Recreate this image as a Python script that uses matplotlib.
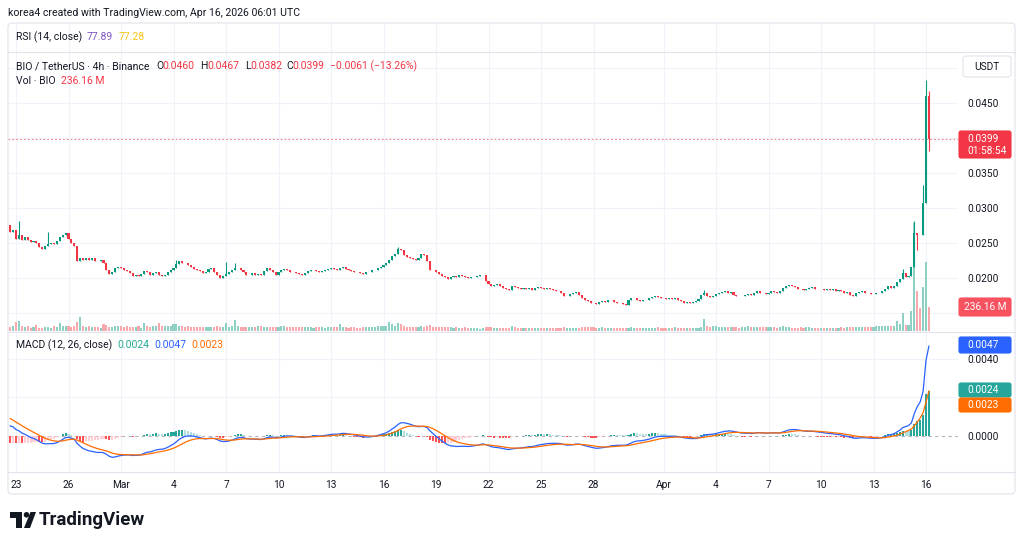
import numpy as np
import pandas as pd
import matplotlib
matplotlib.use("Agg")
import matplotlib.pyplot as plt
from matplotlib.patches import FancyBboxPatch, Rectangle, Circle, Polygon
from matplotlib.transforms import IdentityTransform, blended_transform_factory

plt.rcParams['font.family'] = ['Roboto', 'DejaVu Sans']

W, H = 1024, 546

# --- data: BIO/USDT 4h, Binance (first candle Feb 22 16:00 UTC) ---
first_time = "2026-02-22 16:00"
first_open = 0.0276
closes = [
    0.0266, 0.0268,                                  # Feb 22
    0.0256, 0.0262, 0.0255, 0.0258, 0.0254, 0.0252,  # Feb 23
    0.0253, 0.0250, 0.0245, 0.0242, 0.0246, 0.0249,  # Feb 24
    0.0250, 0.0248, 0.0253, 0.0258, 0.0262, 0.0264,  # Feb 25
    0.0256, 0.0250, 0.0246, 0.0224, 0.0228, 0.0226,  # Feb 26
    0.0229, 0.0226, 0.0228, 0.0225, 0.0224, 0.0226,  # Feb 27
    0.0222, 0.0212, 0.0206, 0.0208, 0.0214, 0.0216,  # Feb 28
    0.0214, 0.0212, 0.0210, 0.0207, 0.0203, 0.0205,  # Mar 1
    0.0203, 0.0206, 0.0210, 0.0208, 0.0204, 0.0207,  # Mar 2
    0.0208, 0.0205, 0.0203, 0.0205, 0.0209, 0.0212,  # Mar 3
    0.0214, 0.0220, 0.0224, 0.0222, 0.0221, 0.0218,  # Mar 4
    0.0216, 0.0213, 0.0211, 0.0210, 0.0207, 0.0209,  # Mar 5
    0.0213, 0.0214, 0.0209, 0.0204, 0.0200, 0.0203,  # Mar 6
    0.0206, 0.0208, 0.0211, 0.0214, 0.0215, 0.0212,  # Mar 7
    0.0208, 0.0204, 0.0205, 0.0207, 0.0205, 0.0206,  # Mar 8
    0.0204, 0.0210, 0.0214, 0.0211, 0.0208, 0.0205,  # Mar 9
    0.0208, 0.0211, 0.0213, 0.0211, 0.0209, 0.0208,  # Mar 10
    0.0207, 0.0206, 0.0205, 0.0207, 0.0210, 0.0211,  # Mar 11
    0.0212, 0.0210, 0.0208, 0.0210, 0.0212, 0.0213,  # Mar 12
    0.0214, 0.0213, 0.0212, 0.0214, 0.0216, 0.0213,  # Mar 13
    0.0211, 0.0210, 0.0209, 0.0208, 0.0207, 0.0206,  # Mar 14
    0.0208, 0.0209, 0.0211, 0.0212, 0.0215, 0.0216,  # Mar 15
    0.0218, 0.0221, 0.0226, 0.0232, 0.0234, 0.0242,  # Mar 16
    0.0240, 0.0233, 0.0230, 0.0229, 0.0227, 0.0226,  # Mar 17
    0.0229, 0.0234, 0.0233, 0.0225, 0.0212, 0.0211,  # Mar 18
    0.0208, 0.0206, 0.0203, 0.0201, 0.0199, 0.0201,  # Mar 19
    0.0203, 0.0202, 0.0204, 0.0203, 0.0201, 0.0200,  # Mar 20
    0.0201, 0.0202, 0.0203, 0.0204, 0.0204, 0.0196,  # Mar 21
    0.0192, 0.0189, 0.0190, 0.0191, 0.0188, 0.0186,  # Mar 22
    0.0184, 0.0183, 0.0189, 0.0187, 0.0186, 0.0185,  # Mar 23
    0.0186, 0.0185, 0.0186, 0.0183, 0.0186, 0.0187,  # Mar 24
    0.0186, 0.0185, 0.0186, 0.0184, 0.0183, 0.0182,  # Mar 25
    0.0181, 0.0178, 0.0174, 0.0175, 0.0177, 0.0178,  # Mar 26
    0.0180, 0.0176, 0.0171, 0.0168, 0.0167, 0.0165,  # Mar 27
    0.0164, 0.0163, 0.0166, 0.0167, 0.0166, 0.0168,  # Mar 28
    0.0169, 0.0166, 0.0165, 0.0164, 0.0163, 0.0162,  # Mar 29
    0.0168, 0.0171, 0.0172, 0.0169, 0.0167, 0.0168,  # Mar 30
    0.0169, 0.0171, 0.0173, 0.0175, 0.0173, 0.0172,  # Mar 31
    0.0171, 0.0170, 0.0171, 0.0170, 0.0171, 0.0168,  # Apr 1
    0.0167, 0.0165, 0.0166, 0.0165, 0.0166, 0.0167,  # Apr 2
    0.0170, 0.0176, 0.0178, 0.0175, 0.0173, 0.0174,  # Apr 3
    0.0177, 0.0179, 0.0180, 0.0181, 0.0179, 0.0180,  # Apr 4
    0.0176, 0.0175, 0.0174, 0.0175, 0.0176, 0.0177,  # Apr 5
    0.0176, 0.0179, 0.0181, 0.0179, 0.0178, 0.0177,  # Apr 6
    0.0179, 0.0181, 0.0180, 0.0179, 0.0181, 0.0186,  # Apr 7
    0.0189, 0.0190, 0.0188, 0.0187, 0.0185, 0.0184,  # Apr 8
    0.0183, 0.0184, 0.0186, 0.0187, 0.0185, 0.0184,  # Apr 9
    0.0185, 0.0183, 0.0184, 0.0183, 0.0184, 0.0182,  # Apr 10
    0.0183, 0.0181, 0.0178, 0.0180, 0.0176, 0.0175,  # Apr 11
    0.0178, 0.0180, 0.0181, 0.0179, 0.0178, 0.0177,  # Apr 12
    0.0177, 0.0178, 0.0179, 0.0181, 0.0184, 0.0189,  # Apr 13
    0.0186, 0.0188, 0.0195, 0.0198, 0.0207, 0.0201,  # Apr 14
    0.0203, 0.0216, 0.0264, 0.0262, 0.0261, 0.0307,  # Apr 15
    0.0460, 0.0399,                                  # Apr 16
]
# volume in millions of BIO
volumes = [
    35, 48,
    86, 96, 48, 35, 45, 32,
    40, 60, 32, 28, 35, 40,
    32, 48, 40, 74, 48, 52,
    50, 35, 48, 90, 134, 48,
    35, 48, 40, 35, 40, 32,
    64, 58, 42, 42, 45, 48,
    48, 42, 48, 35, 40, 35,
    52, 32, 74, 48, 40, 45,
    45, 80, 48, 52, 45, 48,
    64, 67, 48, 45, 40, 45,
    42, 40, 42, 42, 38, 40,
    40, 42, 38, 48, 40, 35,
    74, 40, 45, 106, 48, 40,
    35, 38, 35, 40, 42, 45,
    45, 42, 38, 35, 40, 35,
    38, 45, 48, 40, 35, 38,
    35, 38, 35, 40, 38, 35,
    32, 35, 38, 35, 32, 35,
    35, 40, 42, 64, 40, 35,
    32, 35, 38, 32, 30, 35,
    38, 35, 40, 42, 45, 48,
    45, 50, 82, 72, 48, 80,
    64, 48, 42, 38, 40, 35,
    38, 45, 40, 48, 58, 42,
    40, 38, 35, 42, 38, 35,
    32, 35, 30, 32, 35, 30,
    25, 28, 25, 22, 25, 35,
    38, 35, 32, 30, 28, 30,
    30, 28, 48, 35, 32, 30,
    28, 30, 32, 28, 26, 30,
    30, 28, 25, 30, 28, 32,
    32, 30, 35, 30, 28, 30,
    30, 32, 38, 40, 38, 35,
    35, 30, 32, 35, 30, 32,
    30, 28, 25, 25, 28, 30,
    32, 35, 30, 28, 30, 28,
    32, 30, 28, 32, 35, 30,
    30, 28, 30, 32, 35, 32,
    30, 28, 32, 30, 28, 30,
    32, 38, 112, 48, 40, 51,
    45, 40, 38, 35, 40, 38,
    35, 38, 32, 35, 40, 45,
    35, 38, 40, 38, 42, 40,
    40, 38, 35, 32, 35, 45,
    40, 35, 30, 32, 30, 35,
    32, 35, 38, 32, 30, 30,
    30, 28, 30, 32, 30, 28,
    32, 35, 30, 38, 40, 42,
    38, 40, 40, 38, 35, 40,
    42, 45, 50, 45, 48, 50,
    45, 50, 100, 65, 175, 55,
    60, 190, 1045, 390, 225, 420,
    670, 236.16,
]
# visible wicks (high, low) of notable candles
wicks = {
    "2026-02-23 04:00": (0.0281, None),
    "2026-02-24 20:00": (0.0266, None),
    "2026-03-04 04:00": (0.0226, None),
    "2026-03-07 00:00": (0.0223, 0.0203),
    "2026-03-07 12:00": (0.0221, None),
    "2026-03-16 20:00": (0.0245, None),
    "2026-04-03 08:00": (0.0183, None),
    "2026-04-14 16:00": (0.0213, None),
    "2026-04-15 08:00": (0.0281, None),
    "2026-04-15 12:00": (None, 0.0240),
    "2026-04-15 20:00": (0.0333, None),
    "2026-04-16 00:00": (0.0483, None),
    "2026-04-16 04:00": (0.0467, 0.0382),
}
tick_dates = ["2026-02-23", "2026-02-26", "2026-03-01", "2026-03-04", "2026-03-07",
              "2026-03-10", "2026-03-13", "2026-03-16", "2026-03-19", "2026-03-22",
              "2026-03-25", "2026-03-28", "2026-04-01", "2026-04-04", "2026-04-07",
              "2026-04-10", "2026-04-13", "2026-04-16"]
tick_labels = ["23", "26", "Mar", "4", "7", "10", "13", "16", "19", "22", "25", "28",
               "Apr", "4", "7", "10", "13", "16"]
price_grid = [0.015, 0.020, 0.025, 0.030, 0.035, 0.040, 0.045, 0.050]
price_labels = [0.020, 0.025, 0.030, 0.035, 0.045]   # others sit under the scale badges
macd_grid = [0.002, 0.004]
# MACD state carried in from earlier history
ema_fast_seed, ema_slow_seed, signal_seed = 0.0270, 0.0264, 0.0010

UP, DOWN = "#089981", "#f23645"
TXT = "#131722"
GRID = "#f0f3fa"
BORDER = "#e0e3eb"

times = pd.date_range(first_time, periods=len(closes), freq="4h")
origin = pd.Timestamp("2026-02-23")
xd = ((times - origin) / pd.Timedelta(days=1)).to_numpy()
closes = np.array(closes)
volumes = np.array(volumes, dtype=float)
opens = np.r_[first_open, closes[:-1]]
highs = np.maximum(opens, closes)
lows = np.minimum(opens, closes)
for ts, (hi, lo) in wicks.items():
    i = times.get_loc(pd.Timestamp(ts))
    if hi is not None:
        highs[i] = hi
    if lo is not None:
        lows[i] = lo
up = closes >= opens
ccol = np.where(up, UP, DOWN)


def ema(vals, n, seed):
    a = 2.0 / (n + 1)
    out = np.empty(len(vals))
    prev = seed
    for i, v in enumerate(vals):
        prev = prev + a * (v - prev)
        out[i] = prev
    return out


macd = ema(closes, 12, ema_fast_seed) - ema(closes, 26, ema_slow_seed)
signal = ema(macd, 9, signal_seed)
hist = macd - signal
hprev = np.r_[hist[0], hist[:-1]]
hcol = np.where(hist >= 0, np.where(hist > hprev, "#26a69a", "#b2dfdb"),
                np.where(hist > hprev, "#ffcdd2", "#ff5252"))

tick_x = ((pd.to_datetime(tick_dates) - origin) / pd.Timedelta(days=1)).to_numpy()

# layout in pixels: x = 16 + 17.5 * day
PX0, PXD = 16, 17.5
L, R = 8, 958
xlim = ((L - PX0) / PXD, (R - PX0) / PXD)


def rect(x0, y0, x1, y1):
    return [x0 / W, 1 - y1 / H, (x1 - x0) / W, (y1 - y0) / H]


def ftext(x, y, s, **kw):
    kw.setdefault("va", "center")
    kw.setdefault("fontsize", 7.5)
    kw.setdefault("color", TXT)
    return fig.text(x / W, 1 - y / H, s, **kw)


def fbox(x0, y0, x1, y1, fc, ec=None, r=2, z=5):
    p = FancyBboxPatch((x0, H - y1), x1 - x0, y1 - y0,
                       boxstyle=f"round,pad=0,rounding_size={r}",
                       fc=fc, ec=ec or fc, lw=0.8, transform=IdentityTransform(), zorder=z)
    fig.add_artist(p)


fig = plt.figure(figsize=(W / 100, H / 100), dpi=100)
fig.patch.set_facecolor("white")

# outer frame
fbox(8, 23, 1015, 494, "none", BORDER, r=4, z=1)

# RSI strip (collapsed)
ax_rsi = fig.add_axes(rect(L, 23, R, 52))
ax_rsi.set_xlim(*xlim)
for t in tick_x:
    ax_rsi.axvline(t, color=GRID, lw=0.8)
ax_rsi.set_xticks([]); ax_rsi.set_yticks([])
for s in ax_rsi.spines.values():
    s.set_visible(False)

# volume (under the candles)
ax_vol = fig.add_axes(rect(L, 52, R, 331))
ax_vol.set_xlim(*xlim)
ax_vol.set_ylim(0, 2690)
ax_vol.bar(xd, volumes, width=0.12, color=np.where(up, "#8ed0c4", "#f9a9ae"), zorder=2)
ax_vol.set_xticks([]); ax_vol.set_yticks([])
for s in ax_vol.spines.values():
    s.set_visible(False)

# price
ax = fig.add_axes(rect(L, 52, R, 331))
ax.set_facecolor("none")
ax.set_xlim(*xlim)
ax.set_ylim(0.012429, 0.052286)
gtr = blended_transform_factory(ax_vol.transAxes, ax.transData)
for p in price_grid:
    ax_vol.plot([0, 1], [p, p], transform=gtr, color=GRID, lw=0.8, zorder=1)
for t in tick_x:
    ax_vol.axvline(t, color=GRID, lw=0.8, zorder=1)
ax.vlines(xd, lows, highs, colors=ccol, lw=0.8, zorder=3)
body = closes - opens
body = np.where(np.abs(body) < 0.00004, np.where(up, 0.00004, -0.00004), body)
ax.bar(xd, body, bottom=opens, width=0.12, color=ccol, zorder=4)
ax.axhline(closes[-1], color="#f7828c", lw=0.8, ls=(0, (1.5, 2)), zorder=2)
ax.yaxis.tick_right()
ax.set_yticks(price_labels)
ax.set_yticklabels([f"{p:.4f}" for p in price_labels])
ax.tick_params(axis="y", length=0, pad=6.5, labelsize=7.3, labelcolor=TXT)
ax.set_xticks([])
for s in ax.spines.values():
    s.set_visible(False)

# MACD
axm = fig.add_axes(rect(L, 333, R, 472))
axm.set_xlim(*xlim)
axm.set_ylim(-0.00187, 0.00535)
for t in tick_x:
    axm.axvline(t, color=GRID, lw=0.8, zorder=0)
for m in macd_grid:
    axm.axhline(m, color=GRID, lw=0.8, zorder=0)
axm.axhline(0, color="#b2b5be", lw=0.8, ls=(0, (3, 3)), zorder=1)
axm.bar(xd, hist, width=0.12, color=hcol, zorder=2)
axm.plot(xd, macd, color="#2962ff", lw=0.9, zorder=3)
axm.plot(xd, signal, color="#ff6d00", lw=0.9, zorder=4)
axm.yaxis.tick_right()
axm.set_yticks([0.0, 0.004])
axm.set_yticklabels(["0.0000", "0.0040"])
axm.tick_params(axis="y", length=0, pad=6.5, labelsize=7.3, labelcolor=TXT)
axm.set_xticks(tick_x)
axm.set_xticklabels(tick_labels)
axm.tick_params(axis="x", length=0, pad=6, labelsize=7.3, labelcolor=TXT)
for s in axm.spines.values():
    s.set_visible(False)

# pane separators
for yy in (52, 332, 472):
    fig.add_artist(plt.Line2D([8 / W, 1015 / W], [1 - yy / H, 1 - yy / H], color=BORDER, lw=0.8))

# header and legends
ftext(8, 13, "korea4 created with TradingView.com, Apr 16, 2026 06:01 UTC", fontsize=7.6)
ftext(16, 37, "RSI (14, close)")
ftext(87, 37, "77.89", color="#7e57c2")
ftext(119, 37, "77.28", color="#f5c518")
ftext(16, 66, "BIO / TetherUS · 4h · Binance")
for x, s, c in [(156, "O", TXT), (162.5, "0.0460", DOWN), (200.5, "H", TXT), (207, "0.0467", DOWN),
                (245, "L", TXT), (250.5, "0.0382", DOWN), (286.5, "C", TXT), (292.5, "0.0399", DOWN),
                (330, "−0.0061 (−13.26%)", DOWN)]:
    ftext(x, 66, s, color=c)
ftext(16, 81, "Vol · BIO")
ftext(61, 81, "236.16 M", color=DOWN)
ftext(16, 345, "MACD (12, 26, close)")
ftext(117, 345, "0.0024", color="#22ab94")
ftext(154, 345, "0.0047", color="#2962ff")
ftext(191, 345, "0.0023", color="#ff6d00")

# price-scale labels
fbox(963, 56, 1011, 77, "white", BORDER, r=3)
ftext(987, 66.5, "USDT", ha="center", fontsize=7.3, zorder=6)
fbox(959, 131, 1011, 158, DOWN)
ftext(967, 139, "0.0399", color="white", fontsize=7.3, zorder=6)
ftext(967, 150.5, "01:58:54", color="white", fontsize=7.3, zorder=6)
fbox(959, 298, 1011, 316, "#f7525f")
ftext(985, 307, "236.16 M", color="white", ha="center", fontsize=7.3, zorder=6)
fbox(959, 337, 1011, 353, "#2962ff")
ftext(967, 345, "0.0047", color="white", fontsize=7.3, zorder=6)
fbox(959, 383, 1011, 397, "#26a69a")
ftext(967, 390, "0.0024", color="white", fontsize=7.3, zorder=6)
fbox(959, 398, 1011, 412, "#ff6d00")
ftext(967, 405, "0.0023", color="white", fontsize=7.3, zorder=6)

# TradingView logo
tr = IdentityTransform()
for patch in [Rectangle((10, H - 517.5), 12, 5.5), Rectangle((16, H - 528), 5.5, 16),
              Circle((26.5, H - 514.8), 2.8),
              Polygon([(24, H - 528), (30, H - 528), (36, H - 512), (30.5, H - 512)])]:
    patch.set_transform(tr)
    patch.set_facecolor("#131722")
    patch.set_edgecolor("none")
    fig.add_artist(patch)
ftext(39, 520, "TradingView", fontsize=13.5, fontweight="bold")

fig.savefig("out.png", dpi=100)
